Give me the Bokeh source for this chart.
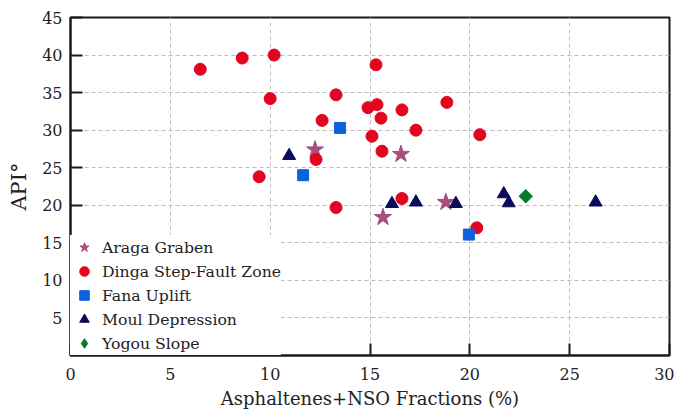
import numpy as np
from bokeh.plotting import figure
from bokeh.models import FixedTicker, Legend, LegendItem, Range1d
from bokeh.embed import file_html
from bokeh.resources import INLINE

# ---- data ----
araga_x = [12.25, 16.55, 18.8, 15.65]
araga_y = [27.4, 26.8, 20.4, 18.4]

dinga_x = [6.5, 8.6, 10.2, 15.3, 10.0, 13.3, 14.9, 15.35, 16.6, 18.85, 12.6,
           15.55, 17.3, 20.5, 15.1, 15.6, 12.3, 9.45, 16.6, 13.3, 20.35]
dinga_y = [38.1, 39.6, 40.0, 38.7, 34.2, 34.7, 33.0, 33.4, 32.7, 33.7, 31.3,
           31.6, 30.0, 29.4, 29.2, 27.2, 26.1, 23.8, 20.9, 19.7, 17.0]

fana_x = [13.5, 11.65, 19.95]
fana_y = [30.3, 24.0, 16.1]

moul_x = [10.95, 16.1, 17.3, 19.3, 21.7, 21.95, 26.3]
moul_y = [26.6, 20.2, 20.4, 20.2, 21.5, 20.3, 20.4]

yogou_x = [22.8]
yogou_y = [21.2]

x_ticks = [0, 5, 10, 15, 20, 25, 30]
y_ticks = [5, 10, 15, 20, 25, 30, 35, 40, 45]

FONT = "DejaVu Serif"

p = figure(width=674, height=412, output_backend="svg", toolbar_location=None,
           x_range=Range1d(0, 30), y_range=Range1d(0, 45),
           min_border_left=70, min_border_right=5, min_border_top=17,
           min_border_bottom=57)
p.background_fill_color = "white"
p.border_fill_color = "white"
p.outline_line_color = "#1a1a1a"
p.outline_line_width = 2

# grid
for g in (p.xgrid, p.ygrid):
    g.grid_line_color = "#bdbdbd"
    g.grid_line_dash = "4 3"
    g.grid_line_width = 1
p.xgrid.ticker = FixedTicker(ticks=[5, 10, 15, 20, 25])
p.ygrid.ticker = FixedTicker(ticks=[5, 10, 15, 20, 25, 30, 35, 40])

# axes
p.xaxis.ticker = FixedTicker(ticks=x_ticks)
p.yaxis.ticker = FixedTicker(ticks=y_ticks)
for ax in (p.xaxis, p.yaxis):
    ax.major_tick_in = 12
    ax.major_tick_out = 0
    ax.minor_tick_line_color = None
    ax.major_tick_line_color = "#1a1a1a"
    ax.major_tick_line_width = 2
    ax.axis_line_color = "#1a1a1a"
    ax.axis_line_width = 2
    ax.major_label_text_font = FONT
    ax.major_label_text_font_size = "16px"
    ax.major_label_text_color = "#222222"
    ax.axis_label_text_font = FONT
    ax.axis_label_text_font_style = "normal"
    ax.axis_label_text_color = "#222222"
p.xaxis.major_label_standoff = 12
p.yaxis.major_label_standoff = 8
p.xaxis.axis_label = "Asphaltenes+NSO Fractions (%)"
p.xaxis.axis_label_text_font_size = "18px"
p.xaxis.axis_label_standoff = 5
p.yaxis.axis_label = "API°"
p.yaxis.axis_label_text_font_size = "21px"
p.yaxis.axis_label_standoff = 8

# glyphs
r_ar = p.scatter(araga_x, araga_y, marker="star", size=18,
                 fill_color="#a94c7f", line_color="#a94c7f")
r_di = p.scatter(dinga_x, dinga_y, marker="circle", size=12,
                 fill_color="#e3051f", line_color="#e3051f")
r_fa = p.scatter(fana_x, fana_y, marker="square", size=11,
                 fill_color="#0f5fe0", line_color="#0f5fe0")
r_mo = p.scatter(moul_x, moul_y, marker="triangle", size=13,
                 fill_color="#0b0b5c", line_color="#0b0b5c")
r_yo = p.scatter(yogou_x, yogou_y, marker="square", size=9.5, angle=np.pi / 4,
                 fill_color="#0a7a2a", line_color="#0a7a2a")
# diamond drawn inside the rotated square; used for the legend symbol
r_yo_leg = p.scatter(yogou_x, yogou_y, marker="diamond", size=12,
                     fill_color="#0a7a2a", line_color="#0a7a2a")

legend = Legend(items=[
    LegendItem(label="Araga Graben", renderers=[r_ar]),
    LegendItem(label="Dinga Step-Fault Zone", renderers=[r_di]),
    LegendItem(label="Fana Uplift", renderers=[r_fa]),
    LegendItem(label="Moul Depression", renderers=[r_mo]),
    LegendItem(label="Yogou Slope", renderers=[r_yo_leg]),
], location="bottom_left")
legend.margin = 0
legend.padding = 0
legend.glyph_width = 28
legend.glyph_height = 24
legend.label_height = 24
legend.spacing = 0
legend.label_standoff = 4
legend.label_text_font = FONT
legend.label_text_font_size = "15.7px"
legend.label_text_color = "#222222"
legend.border_line_color = None
legend.background_fill_color = "white"
legend.background_fill_alpha = 1.0
p.add_layout(legend, "center")

open("out.html", "w").write(file_html(p, INLINE))
